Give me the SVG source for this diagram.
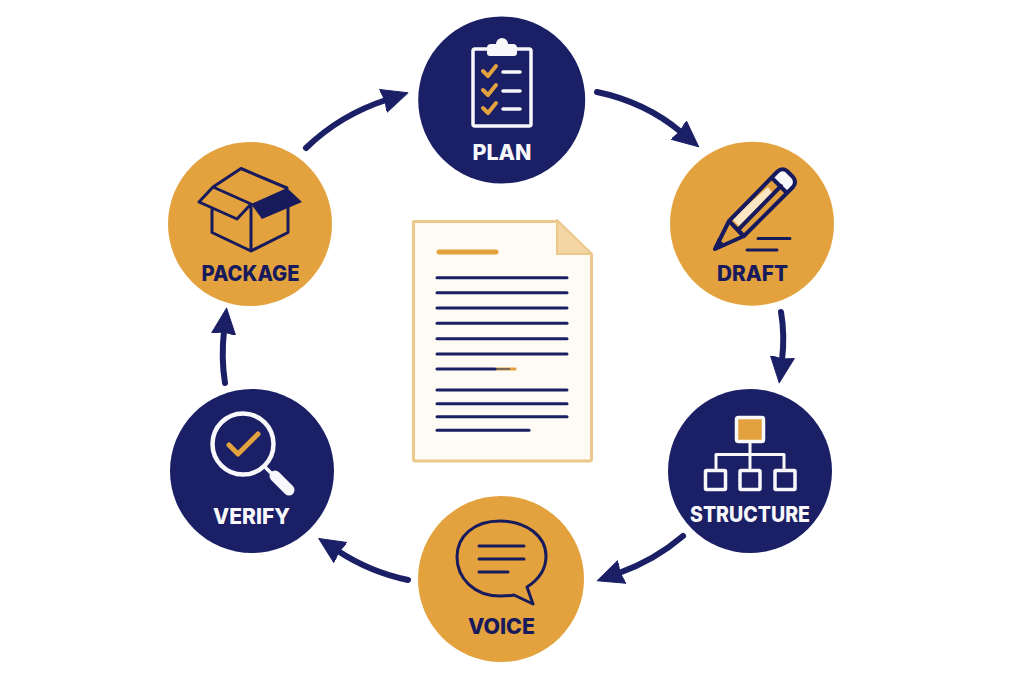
<svg xmlns="http://www.w3.org/2000/svg" width="1024" height="683" viewBox="0 0 1024 683">
<style>
.n{fill:#1a1f66}.o{fill:#e3a23e}
.lb{font-family:"Inter","Liberation Sans",sans-serif;font-weight:800;font-size:21px;text-anchor:middle}
.w{fill:#f8f8fb}.d{fill:#171a5c}
.ws{fill:none;stroke:#f8f8fb;stroke-linecap:round;stroke-linejoin:round}
.ds{fill:none;stroke:#171a5c;stroke-linecap:round;stroke-linejoin:round}
.os{fill:none;stroke:#e3a23e;stroke-linecap:round;stroke-linejoin:round}
.ln{stroke:#1a1f66;stroke-width:3;stroke-linecap:round}
.ar{fill:none;stroke:#1a1f66;stroke-width:6;stroke-linecap:round}
</style>
<defs>
<marker id="ah" markerUnits="userSpaceOnUse" markerWidth="30" markerHeight="30" refX="3" refY="13" orient="auto"><path d="M0 1L26 13L0 25L2 13Z" fill="#1a1f66" stroke="#1a1f66" stroke-width="1" stroke-linejoin="round"/></marker>
</defs>
<rect width="1024" height="683" fill="#fff"/>
<g id="connectors">
<path class="ar" marker-end="url(#ah)" d="M597 92Q645 102 681 132"/>
<path class="ar" marker-end="url(#ah)" d="M781 312Q785 335 782 360"/>
<path class="ar" marker-end="url(#ah)" d="M683 536Q655 560 619 573"/>
<path class="ar" marker-end="url(#ah)" d="M408 580Q370 572 338 551"/>
<path class="ar" marker-end="url(#ah)" d="M225 383Q221 358 224 331"/>
<path class="ar" marker-end="url(#ah)" d="M306 148Q340 115 386 100"/>
</g>
<g id="document">
<path d="M413.500 221.500H557L591.500 255V459a2 2 0 0 1-2 2H415.500a2 2 0 0 1-2-2V223.500Z" fill="#fefbf5" stroke="#ecc88c" stroke-width="3" stroke-linejoin="round"/>
<path d="M557 220V254H592Z" fill="#f3d6a4" stroke="#ecc88c" stroke-width="2" stroke-linejoin="round"/>
<line x1="439" y1="252" x2="496" y2="252" stroke="#e3a23e" stroke-width="5" stroke-linecap="round"/>
<line class="ln" x1="437" y1="277.700" x2="567" y2="277.700"/>
<line class="ln" x1="437" y1="292.700" x2="567" y2="292.700"/>
<line class="ln" x1="437" y1="308" x2="567" y2="308"/>
<line class="ln" x1="437" y1="323.300" x2="567" y2="323.300"/>
<line class="ln" x1="437" y1="338.700" x2="567" y2="338.700"/>
<line class="ln" x1="437" y1="354" x2="567" y2="354"/>
<line x1="496" y1="369" x2="515" y2="369" stroke="#e3a23e" stroke-width="3" stroke-linecap="round"/>
<line x1="496" y1="369" x2="510" y2="369" stroke="#7a6a55" stroke-width="2"/>
<line class="ln" x1="437" y1="369" x2="495" y2="369"/>
<line class="ln" x1="437" y1="390" x2="567" y2="390"/>
<line class="ln" x1="437" y1="403.700" x2="567" y2="403.700"/>
<line class="ln" x1="437" y1="416.700" x2="567" y2="416.700"/>
<line class="ln" x1="437" y1="430.300" x2="529" y2="430.300"/>
</g>
<g id="plan">
<circle class="n" cx="501.700" cy="100" r="83.500"/>
<rect class="ws" x="473" y="49" width="58" height="77" rx="2" stroke-width="3.500"/>
<path class="w" d="M490 56a3 3 0 0 1-3-3v-5a4 4 0 0 1 4-4h5a6 6 0 0 1 12 0h5a4 4 0 0 1 4 4v5a3 3 0 0 1-3 3Z"/>
<path class="os" stroke-width="4" d="M483 71L488 76L496 66M483 90L488 95L496 85M483 108L488 113L496 103"/>
<path class="ws" stroke-width="3.500" d="M503 72H520M503 91H520M503 109H520"/>
<text class="lb w" x="502" y="160" textLength="59" lengthAdjust="spacingAndGlyphs">PLAN</text>
</g>
<g id="draft">
<circle class="o" cx="752" cy="223.700" r="82"/>
<path d="M729 221L778 172L793 187L744 236Z" fill="#e3a23e"/>
<path d="M732 219L768 187L774 195L740 227Z" fill="#fbe6c4"/>
<path d="M771 178L780 170Q785 169 789 172L793 176Q796 181 793 186L786 193Z" fill="#f8f8fb"/>
<path class="ds" stroke-width="4" d="M729 221L777 172Q782 167 787 171L793 177Q797 182 793 187L744 236ZM772 178L787 193M729 221L743 236M729 221L715 249L744 236M738 230L781 186"/>
<path d="M714 250L718 238L726 246Z" class="d"/>
<path class="ds" stroke-width="3" d="M758 238.500H790M747 250H777"/>
<text class="lb d" x="752.500" y="281" textLength="71" lengthAdjust="spacingAndGlyphs">DRAFT</text>
</g>
<g id="structure">
<circle class="n" cx="750" cy="471" r="82"/>
<rect x="736.500" y="417.500" width="27" height="24" rx="2" fill="#e3a23e" stroke="#f8f8fb" stroke-width="3.500"/>
<path class="ws" stroke-width="3" d="M750 442V468M716 468V454.500H784V468"/>
<rect class="ws" x="705.500" y="470.500" width="20" height="19" rx="1" stroke-width="3.500"/>
<rect class="ws" x="740" y="470.500" width="20" height="19" rx="1" stroke-width="3.500"/>
<rect class="ws" x="775" y="470.500" width="20" height="19" rx="1" stroke-width="3.500"/>
<text class="lb w" x="750" y="522" textLength="120" lengthAdjust="spacingAndGlyphs">STRUCTURE</text>
</g>
<g id="voice">
<circle class="o" cx="501" cy="579" r="83"/>
<path class="ds" stroke-width="3" d="M500 521C526 521 546 536 546 556C546 571 538 580 527 587L533 604L514 595C509 596 505 596 500 596C474 596 457 578 457 557C457 536 474 521 500 521Z"/>
<path class="ds" stroke-width="3" d="M479 546H524M479 559H524M479 572H508"/>
<text class="lb d" x="501.500" y="634" textLength="67" lengthAdjust="spacingAndGlyphs">VOICE</text>
</g>
<g id="verify">
<circle class="n" cx="252" cy="471" r="82"/>
<circle class="ws" cx="243" cy="444" r="30.500" stroke-width="4.500"/>
<path class="os" stroke-width="5" d="M229 445L238 454L258 434"/>
<path class="ws" stroke-width="3.500" d="M266 468L271 473"/>
<path class="ws" stroke-width="11" d="M275 476L289 490"/>
<text class="lb w" x="251.500" y="524" textLength="77" lengthAdjust="spacingAndGlyphs">VERIFY</text>
</g>
<g id="package">
<circle class="o" cx="250" cy="224" r="82"/>
<path d="M251 204L287 188L302 202L262 219Z" class="d"/>
<path class="ds" stroke-width="3" d="M213 187L241 168.500L287 188M213 187L251 204M213 187L199 202L237 219L251 204M212 210V232.500L251 251V204M251 251L288 232.500V200"/>
<text class="lb d" x="250.500" y="281" textLength="98" lengthAdjust="spacingAndGlyphs">PACKAGE</text>
</g>
</svg>
